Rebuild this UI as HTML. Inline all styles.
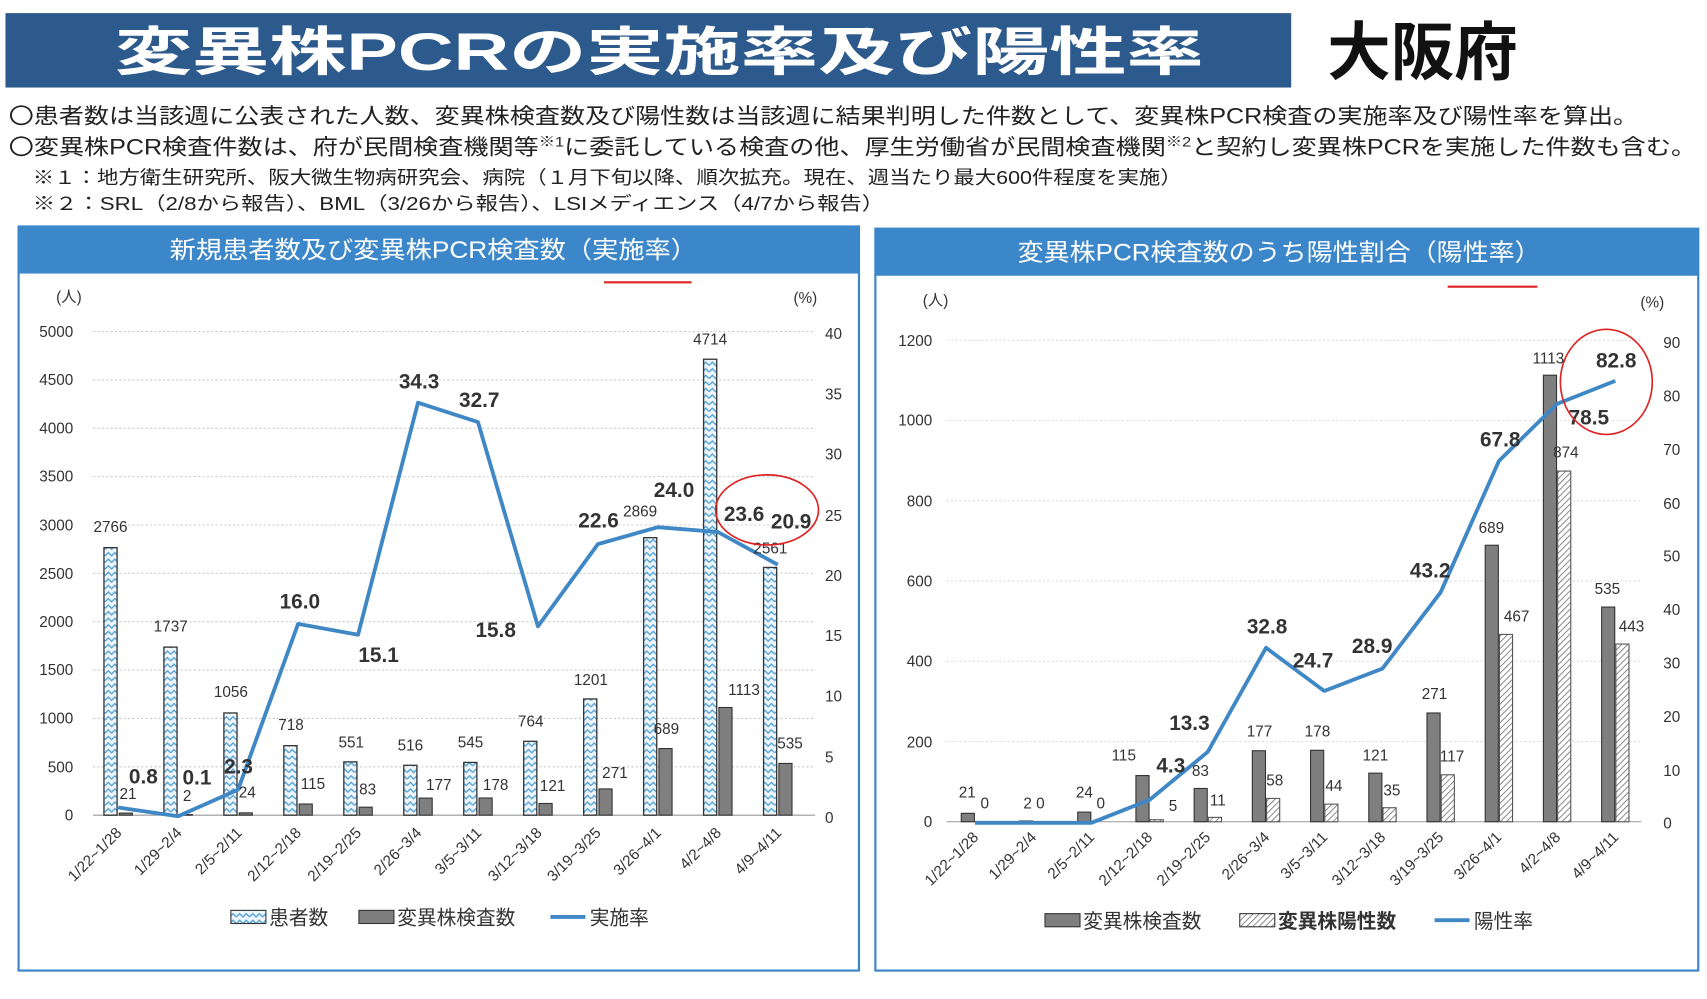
<!DOCTYPE html>
<html><head><meta charset="utf-8"><style>
html,body{margin:0;padding:0;background:#fff;}
svg{display:block;}
text{font-family:"Liberation Sans","Noto Sans CJK JP",sans-serif;}
.t{font-size:14px;fill:#333;}
.d{font-size:14px;fill:#333;text-anchor:middle;}
.r{font-size:19px;font-weight:bold;fill:#333;text-anchor:middle;}
.x{font-size:14px;fill:#333;text-anchor:end;}
</style></head><body>
<svg width="1707" height="999" viewBox="0 0 1560 913" preserveAspectRatio="none" xmlns="http://www.w3.org/2000/svg">
<defs>
<pattern id="zz" width="12" height="6" patternUnits="userSpaceOnUse">
<rect width="12" height="6" fill="#eef6fb"/>
<path d="M0 4 L3 1 L6 4 L9 1 L12 4" stroke="#5aa6d6" stroke-width="1.3" fill="none"/>
</pattern>
<pattern id="hh" width="4" height="4" patternUnits="userSpaceOnUse" patternTransform="rotate(45)">
<rect width="4" height="4" fill="#fff"/><line x1="0" y1="0" x2="0" y2="4" stroke="#666" stroke-width="1.4"/>
</pattern>
</defs>
<!-- Title -->
<rect x="5" y="12" width="1175" height="68" fill="#2d5a8c"/>
<text x="105" y="64" font-size="48" font-weight="bold" fill="#fff" textLength="995" lengthAdjust="spacingAndGlyphs">変異株PCRの実施率及び陽性率</text>
<text x="1300" y="68" font-size="58" font-weight="bold" fill="#111" text-anchor="middle">大阪府</text>
<text x="8" y="113" font-size="20" fill="#222" textLength="1489" lengthAdjust="spacingAndGlyphs">〇患者数は当該週に公表された人数、変異株検査数及び陽性数は当該週に結果判明した件数として、変異株PCR検査の実施率及び陽性率を算出。</text>
<text x="8" y="141" font-size="20" fill="#222" textLength="1542" lengthAdjust="spacingAndGlyphs">〇変異株PCR検査件数は、府が民間検査機関等<tspan font-size="13" dy="-7">※1</tspan><tspan dy="7">に委託している検査の他、厚生労働省が民間検査機関</tspan><tspan font-size="13" dy="-7">※2</tspan><tspan dy="7">と契約し変異株PCRを実施した件数も含む。</tspan></text>
<text x="30" y="168" font-size="17" fill="#222" textLength="1050" lengthAdjust="spacingAndGlyphs">※１：地方衛生研究所、阪大微生物病研究会、病院（１月下旬以降、順次拡充。現在、週当たり最大600件程度を実施）</text>
<text x="30" y="192" font-size="17" fill="#222" textLength="778" lengthAdjust="spacingAndGlyphs">※２：SRL（2/8から報告）、BML（3/26から報告）、LSIメディエンス（4/7から報告）</text>

<!-- LEFT PANEL -->
<rect x="17" y="207" width="768" height="680" fill="#fff" stroke="#3c87c9" stroke-width="2"/>
<rect x="17" y="207" width="768" height="43" fill="#3c87c9"/>
<text x="155" y="236" font-size="22" fill="#fff" textLength="482" lengthAdjust="spacingAndGlyphs">新規患者数及び変異株PCR検査数（実施率）</text>
<line x1="552" y1="258" x2="632" y2="258" stroke="#d22" stroke-width="2"/>
<text x="63" y="276" class="t" text-anchor="middle">(人)</text>
<text x="736" y="277" class="t" text-anchor="middle">(%)</text>
<g stroke="#ccc" stroke-dasharray="2,2" stroke-width="1">
<line x1="85" y1="303" x2="745" y2="303"/><line x1="85" y1="347.2" x2="745" y2="347.2"/><line x1="85" y1="391.4" x2="745" y2="391.4"/><line x1="85" y1="435.6" x2="745" y2="435.6"/><line x1="85" y1="479.8" x2="745" y2="479.8"/><line x1="85" y1="524" x2="745" y2="524"/><line x1="85" y1="568.2" x2="745" y2="568.2"/><line x1="85" y1="612.4" x2="745" y2="612.4"/><line x1="85" y1="656.6" x2="745" y2="656.6"/><line x1="85" y1="700.8" x2="745" y2="700.8"/>
</g>
<line x1="85" y1="745" x2="745" y2="745" stroke="#999"/>
<g class="t" text-anchor="end">
<text x="67" y="308">5000</text><text x="67" y="352">4500</text><text x="67" y="396">4000</text><text x="67" y="440">3500</text><text x="67" y="485">3000</text><text x="67" y="529">2500</text><text x="67" y="573">2000</text><text x="67" y="617">1500</text><text x="67" y="661">1000</text><text x="67" y="706">500</text><text x="67" y="750">0</text>
</g>
<g class="t">
<text x="754" y="310">40</text><text x="754" y="365">35</text><text x="754" y="420">30</text><text x="754" y="476">25</text><text x="754" y="531">20</text><text x="754" y="586">15</text><text x="754" y="641">10</text><text x="754" y="697">5</text><text x="754" y="752">0</text>
</g>
<g fill="url(#zz)" stroke="#333" stroke-width="1.2">
<rect x="95" y="500.5" width="12" height="244.5"/><rect x="149.8" y="591.4" width="12" height="153.6"/><rect x="204.6" y="651.6" width="12" height="93.4"/><rect x="259.4" y="681.5" width="12" height="63.5"/><rect x="314.2" y="696.3" width="12" height="48.7"/><rect x="369" y="699.4" width="12" height="45.6"/><rect x="423.8" y="696.8" width="12" height="48.2"/><rect x="478.6" y="677.5" width="12" height="67.5"/><rect x="533.4" y="638.8" width="12" height="106.2"/><rect x="588.2" y="491.4" width="12" height="253.6"/><rect x="643" y="328.3" width="12" height="416.7"/><rect x="697.8" y="518.6" width="12" height="226.4"/>
</g>
<g fill="#7f7f7f" stroke="#333" stroke-width="1">
<rect x="109" y="743.1" width="12" height="1.9"/><rect x="163.8" y="744.5" width="12" height="0.5"/><rect x="218.6" y="742.9" width="12" height="2.1"/><rect x="273.4" y="734.8" width="12" height="10.2"/><rect x="328.2" y="737.7" width="12" height="7.3"/><rect x="383" y="729.4" width="12" height="15.6"/><rect x="437.8" y="729.3" width="12" height="15.7"/><rect x="492.6" y="734.3" width="12" height="10.7"/><rect x="547.4" y="721" width="12" height="24"/><rect x="602.2" y="684.1" width="12" height="60.9"/><rect x="657" y="646.6" width="12" height="98.4"/><rect x="711.8" y="697.7" width="12" height="47.3"/>
</g>
<polyline points="108,738 162.8,746 217.6,721.6 272.4,570.2 327.2,580.1 382,368 436.8,385.7 491.6,572.4 546.4,497.3 601.2,481.8 656,486.2 710.8,516.1" fill="none" stroke="#3f88c5" stroke-width="3.5" stroke-linejoin="round"/>
<g class="d">
<text x="101" y="486">2766</text><text x="156" y="577">1737</text><text x="211" y="637">1056</text><text x="266" y="667">718</text><text x="321" y="683">551</text><text x="375" y="686">516</text><text x="430" y="683">545</text><text x="485" y="664">764</text><text x="540" y="626">1201</text><text x="585" y="472">2869</text><text x="649" y="315">4714</text><text x="704" y="506">2561</text>
<text x="117" y="730">21</text><text x="171" y="732">2</text><text x="226" y="729">24</text><text x="286" y="721">115</text><text x="336" y="726">83</text><text x="401" y="722">177</text><text x="453" y="722">178</text><text x="505" y="723">121</text><text x="562" y="711">271</text><text x="609" y="671">689</text><text x="680" y="635">1113</text><text x="722" y="684">535</text>
</g>
<g class="r">
<text x="131" y="716">0.8</text><text x="180" y="717">0.1</text><text x="218" y="707">2.3</text><text x="274" y="556">16.0</text><text x="346" y="605">15.1</text><text x="383" y="355">34.3</text><text x="438" y="372">32.7</text><text x="453" y="582">15.8</text><text x="547" y="482">22.6</text><text x="616" y="454">24.0</text><text x="680" y="476">23.6</text><text x="723" y="483">20.9</text>
</g>
<ellipse cx="701" cy="466" rx="47" ry="32" fill="none" stroke="#d22" stroke-width="1.5"/>
<g class="x">
<text x="112" y="762" transform="rotate(-45 112 762)">1/22~1/28</text><text x="167" y="762" transform="rotate(-45 167 762)">1/29~2/4</text><text x="222" y="762" transform="rotate(-45 222 762)">2/5~2/11</text><text x="276" y="762" transform="rotate(-45 276 762)">2/12~2/18</text><text x="331" y="762" transform="rotate(-45 331 762)">2/19~2/25</text><text x="386" y="762" transform="rotate(-45 386 762)">2/26~3/4</text><text x="441" y="762" transform="rotate(-45 441 762)">3/5~3/11</text><text x="496" y="762" transform="rotate(-45 496 762)">3/12~3/18</text><text x="550" y="762" transform="rotate(-45 550 762)">3/19~3/25</text><text x="605" y="762" transform="rotate(-45 605 762)">3/26~4/1</text><text x="660" y="762" transform="rotate(-45 660 762)">4/2~4/8</text><text x="715" y="762" transform="rotate(-45 715 762)">4/9~4/11</text>
</g>
<rect x="211" y="832" width="32" height="12" fill="url(#zz)" stroke="#333"/>
<text x="246" y="845" font-size="18" fill="#333">患者数</text>
<rect x="328" y="832" width="32" height="12" fill="#7f7f7f" stroke="#333"/>
<text x="363" y="845" font-size="18" fill="#333">変異株検査数</text>
<line x1="503" y1="838" x2="535" y2="838" stroke="#3f88c5" stroke-width="3.5"/>
<text x="539" y="845" font-size="18" fill="#333">実施率</text>

<!-- RIGHT PANEL -->
<rect x="800" y="209" width="752" height="678" fill="#fff" stroke="#3c87c9" stroke-width="2"/>
<rect x="800" y="209" width="752" height="43" fill="#3c87c9"/>
<text x="930" y="238" font-size="22" fill="#fff" textLength="478" lengthAdjust="spacingAndGlyphs">変異株PCR検査数のうち陽性割合（陽性率）</text>
<line x1="1323" y1="262" x2="1405" y2="262" stroke="#d22" stroke-width="2"/>
<text x="855" y="279" class="t" text-anchor="middle">(人)</text>
<text x="1510" y="281" class="t" text-anchor="middle">(%)</text>
<g stroke="#ddd" stroke-dasharray="2,2" stroke-width="1">
<line x1="865" y1="311" x2="1500" y2="311"/><line x1="865" y1="384.3" x2="1500" y2="384.3"/><line x1="865" y1="457.7" x2="1500" y2="457.7"/><line x1="865" y1="531" x2="1500" y2="531"/><line x1="865" y1="604.3" x2="1500" y2="604.3"/><line x1="865" y1="677.7" x2="1500" y2="677.7"/>
</g>
<line x1="865" y1="751" x2="1500" y2="751" stroke="#999"/>
<g class="t" text-anchor="end">
<text x="852" y="316">1200</text><text x="852" y="389">1000</text><text x="852" y="463">800</text><text x="852" y="536">600</text><text x="852" y="609">400</text><text x="852" y="683">200</text><text x="852" y="756">0</text>
</g>
<g class="t">
<text x="1520" y="318">90</text><text x="1520" y="367">80</text><text x="1520" y="416">70</text><text x="1520" y="465">60</text><text x="1520" y="513">50</text><text x="1520" y="562">40</text><text x="1520" y="611">30</text><text x="1520" y="660">20</text><text x="1520" y="709">10</text><text x="1520" y="757">0</text>
</g>
<g fill="#7f7f7f" stroke="#333" stroke-width="1">
<rect x="878.5" y="743.3" width="12" height="7.7"/><rect x="931.7" y="750.3" width="12" height="0.7"/><rect x="984.9" y="742.2" width="12" height="8.8"/><rect x="1038.1" y="708.8" width="12" height="42.2"/><rect x="1091.3" y="720.6" width="12" height="30.4"/><rect x="1144.5" y="686.1" width="12" height="64.9"/><rect x="1197.7" y="685.7" width="12" height="65.3"/><rect x="1250.9" y="706.6" width="12" height="44.4"/><rect x="1304.1" y="651.6" width="12" height="99.4"/><rect x="1357.3" y="498.3" width="12" height="252.7"/><rect x="1410.5" y="342.9" width="12" height="408.1"/><rect x="1463.7" y="554.8" width="12" height="196.2"/>
</g>
<g fill="url(#hh)" stroke="#555" stroke-width="1">
<rect x="1051.1" y="749.2" width="12" height="1.8"/><rect x="1104.3" y="747" width="12" height="4"/><rect x="1157.5" y="729.7" width="12" height="21.3"/><rect x="1210.7" y="734.9" width="12" height="16.1"/><rect x="1263.9" y="738.2" width="12" height="12.8"/><rect x="1317.1" y="708.1" width="12" height="42.9"/><rect x="1370.3" y="579.8" width="12" height="171.2"/><rect x="1423.5" y="430.5" width="12" height="320.5"/><rect x="1476.7" y="588.6" width="12" height="162.4"/>
</g>
<polyline points="891,752 944.2,752 997.4,752 1050.6,731 1103.8,687.1 1157,592 1210.2,631.5 1263.4,611 1316.6,541.3 1369.8,421.3 1423,369.1 1476.2,348.1" fill="none" stroke="#3f88c5" stroke-width="3.5" stroke-linejoin="round"/>
<g class="d">
<text x="884" y="729">21</text><text x="900" y="739">0</text><text x="945" y="739">2 0</text><text x="991" y="729">24</text><text x="1006" y="739">0</text><text x="1027" y="695">115</text><text x="1072" y="741">5</text><text x="1097" y="709">83</text><text x="1113" y="736">11</text><text x="1151" y="673">177</text><text x="1165" y="718">58</text><text x="1204" y="673">178</text><text x="1219" y="723">44</text><text x="1257" y="695">121</text><text x="1272" y="727">35</text><text x="1311" y="639">271</text><text x="1327" y="696">117</text><text x="1363" y="487">689</text><text x="1386" y="568">467</text><text x="1415" y="332">1113</text><text x="1431" y="418">874</text><text x="1469" y="543">535</text><text x="1491" y="577">443</text>
</g>
<g class="r">
<text x="1070" y="706">4.3</text><text x="1087" y="667">13.3</text><text x="1158" y="579">32.8</text><text x="1200" y="610">24.7</text><text x="1254" y="597">28.9</text><text x="1307" y="528">43.2</text><text x="1371" y="408">67.8</text><text x="1452" y="388">78.5</text><text x="1477" y="336">82.8</text>
</g>
<ellipse cx="1468" cy="349" rx="42" ry="48" fill="none" stroke="#d22" stroke-width="1.5"/>
<g class="x">
<text x="895" y="766" transform="rotate(-45 895 766)">1/22~1/28</text><text x="948" y="766" transform="rotate(-45 948 766)">1/29~2/4</text><text x="1001" y="766" transform="rotate(-45 1001 766)">2/5~2/11</text><text x="1054" y="766" transform="rotate(-45 1054 766)">2/12~2/18</text><text x="1107" y="766" transform="rotate(-45 1107 766)">2/19~2/25</text><text x="1161" y="766" transform="rotate(-45 1161 766)">2/26~3/4</text><text x="1214" y="766" transform="rotate(-45 1214 766)">3/5~3/11</text><text x="1267" y="766" transform="rotate(-45 1267 766)">3/12~3/18</text><text x="1320" y="766" transform="rotate(-45 1320 766)">3/19~3/25</text><text x="1373" y="766" transform="rotate(-45 1373 766)">3/26~4/1</text><text x="1427" y="766" transform="rotate(-45 1427 766)">4/2~4/8</text><text x="1480" y="766" transform="rotate(-45 1480 766)">4/9~4/11</text>
</g>
<rect x="955" y="835" width="32" height="12" fill="#7f7f7f" stroke="#333"/>
<text x="990" y="848" font-size="18" fill="#333">変異株検査数</text>
<rect x="1133" y="835" width="32" height="12" fill="url(#hh)" stroke="#333"/>
<text x="1168" y="848" font-size="18" font-weight="bold" fill="#333">変異株陽性数</text>
<line x1="1311" y1="841" x2="1343" y2="841" stroke="#3f88c5" stroke-width="3.5"/>
<text x="1347" y="848" font-size="18" fill="#333">陽性率</text>
</svg>
</body></html>
